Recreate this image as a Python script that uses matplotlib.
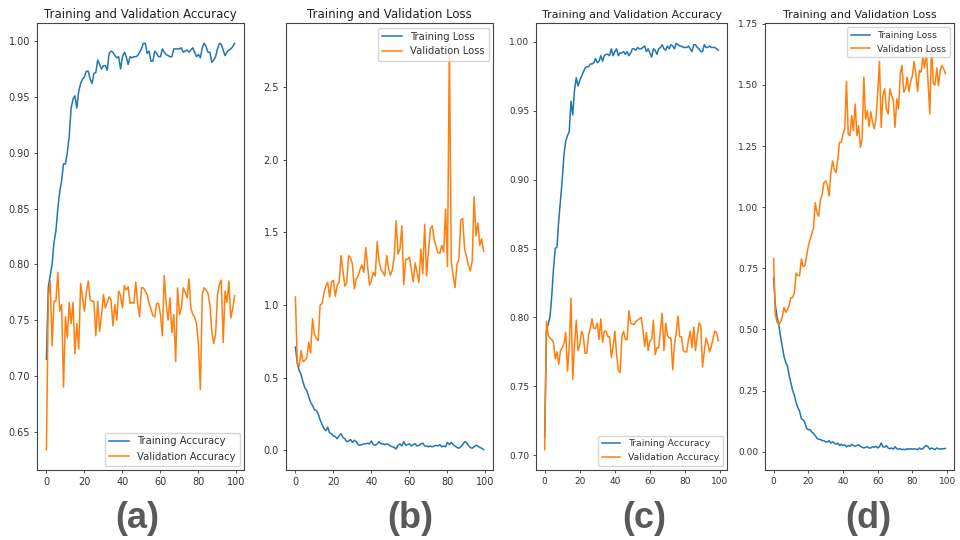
import matplotlib
matplotlib.use("Agg")
import matplotlib.pyplot as plt
from matplotlib.ticker import MultipleLocator

epochs = list(range(100))

a_train = [0.715, 0.780, 0.790, 0.800, 0.820, 0.830, 0.850, 0.865, 0.875, 0.890,
           0.890, 0.900, 0.915, 0.940, 0.948, 0.951, 0.940, 0.955, 0.962, 0.966,
           0.968, 0.973, 0.973, 0.966, 0.962, 0.971, 0.972, 0.983, 0.979, 0.975,
           0.978, 0.978, 0.974, 0.989, 0.991, 0.990, 0.987, 0.985, 0.986, 0.975,
           0.986, 0.990, 0.986, 0.979, 0.986, 0.985, 0.986, 0.986, 0.987, 0.990,
           0.993, 0.998, 0.998, 0.989, 0.991, 0.982, 0.982, 0.991, 0.989, 0.986,
           0.986, 0.993, 0.990, 0.988, 0.987, 0.986, 0.986, 0.993, 0.993, 0.993,
           0.993, 0.994, 0.990, 0.991, 0.992, 0.990, 0.992, 0.994, 0.990, 0.986,
           0.988, 0.985, 0.994, 0.998, 0.995, 0.990, 0.990, 0.981, 0.983, 0.986,
           0.993, 0.998, 0.997, 0.992, 0.987, 0.990, 0.992, 0.993, 0.995, 0.998]
a_val = [0.634, 0.770, 0.785, 0.727, 0.767, 0.767, 0.793, 0.758, 0.764, 0.690,
         0.753, 0.734, 0.766, 0.747, 0.766, 0.720, 0.747, 0.724, 0.783, 0.770,
         0.758, 0.775, 0.785, 0.768, 0.767, 0.767, 0.736, 0.767, 0.740, 0.755,
         0.773, 0.761, 0.766, 0.771, 0.768, 0.745, 0.764, 0.750, 0.776, 0.772,
         0.761, 0.781, 0.777, 0.780, 0.765, 0.766, 0.765, 0.784, 0.765, 0.753,
         0.779, 0.779, 0.776, 0.773, 0.765, 0.760, 0.754, 0.753, 0.765, 0.765,
         0.755, 0.736, 0.790, 0.765, 0.750, 0.770, 0.739, 0.755, 0.713, 0.779,
         0.755, 0.761, 0.779, 0.775, 0.770, 0.787, 0.761, 0.755, 0.753, 0.746,
         0.728, 0.688, 0.773, 0.779, 0.777, 0.774, 0.764, 0.740, 0.729, 0.737,
         0.773, 0.782, 0.786, 0.730, 0.776, 0.766, 0.785, 0.752, 0.760, 0.772]

b_train = [0.71, 0.60, 0.55, 0.52, 0.47, 0.43, 0.41, 0.37, 0.33, 0.31,
           0.28, 0.275, 0.25, 0.21, 0.18, 0.15, 0.135, 0.16, 0.12, 0.115,
           0.10, 0.095, 0.08, 0.10, 0.115, 0.09, 0.08, 0.06, 0.065, 0.075,
           0.055, 0.07, 0.06, 0.04, 0.035, 0.04, 0.045, 0.045, 0.05, 0.045,
           0.065, 0.04, 0.035, 0.045, 0.06, 0.045, 0.045, 0.04, 0.045, 0.04,
           0.03, 0.025, 0.02, 0.01, 0.035, 0.045, 0.03, 0.06, 0.035, 0.04,
           0.045, 0.03, 0.04, 0.045, 0.03, 0.035, 0.045, 0.05, 0.03, 0.03,
           0.025, 0.03, 0.025, 0.03, 0.035, 0.03, 0.04, 0.025, 0.03, 0.025,
           0.055, 0.04, 0.055, 0.04, 0.03, 0.02, 0.015, 0.025, 0.04, 0.06,
           0.055, 0.035, 0.02, 0.015, 0.025, 0.035, 0.03, 0.02, 0.015, 0.005]
b_val = [1.055, 0.60, 0.58, 0.686, 0.61, 0.62, 0.64, 0.744, 0.67, 0.905,
         0.80, 0.77, 0.755, 1.00, 1.01, 1.08, 1.13, 1.155, 1.055, 1.16,
         1.17, 1.06, 1.135, 1.155, 1.34, 1.235, 1.13, 1.155, 1.34, 1.325,
         1.28, 1.11, 1.18, 1.20, 1.245, 1.275, 1.225, 1.395, 1.265, 1.135,
         1.17, 1.225, 1.20, 1.435, 1.30, 1.245, 1.225, 1.20, 1.34, 1.25,
         1.205, 1.245, 1.335, 1.58, 1.35, 1.385, 1.545, 1.14, 1.315, 1.315,
         1.33, 1.245, 1.16, 1.29, 1.225, 1.155, 1.385, 1.215, 1.555, 1.20,
         1.375, 1.525, 1.545, 1.45, 1.40, 1.36, 1.355, 1.41, 1.365, 1.66,
         1.265, 2.80, 1.30, 1.20, 1.12, 1.28, 1.315, 1.585, 1.595, 1.385,
         1.335, 1.275, 1.235, 1.30, 1.745, 1.475, 1.565, 1.41, 1.455, 1.37]

c_train = [0.713, 0.790, 0.795, 0.800, 0.815, 0.835, 0.850, 0.851, 0.870, 0.885,
           0.900, 0.918, 0.928, 0.932, 0.935, 0.957, 0.947, 0.965, 0.974, 0.968,
           0.972, 0.975, 0.978, 0.981, 0.982, 0.982, 0.984, 0.984, 0.985, 0.988,
           0.985, 0.986, 0.990, 0.986, 0.990, 0.991, 0.991, 0.990, 0.995, 0.990,
           0.993, 0.995, 0.990, 0.992, 0.992, 0.993, 0.991, 0.993, 0.990, 0.992,
           0.995, 0.995, 0.994, 0.996, 0.995, 0.995, 0.996, 0.997, 0.993, 0.995,
           0.992, 0.989, 0.995, 0.994, 0.991, 0.995, 0.996, 0.998, 0.995, 0.994,
           0.997, 0.995, 0.998, 0.997, 0.995, 0.999, 0.998, 0.997, 0.997, 0.996,
           0.996, 0.996, 0.997, 0.995, 0.993, 0.998, 0.998, 0.996, 0.995, 0.993,
           0.993, 0.998, 0.996, 0.996, 0.997, 0.996, 0.996, 0.996, 0.995, 0.994]
c_val = [0.704, 0.797, 0.787, 0.785, 0.784, 0.782, 0.770, 0.775, 0.766, 0.776,
         0.778, 0.781, 0.789, 0.761, 0.779, 0.814, 0.755, 0.780, 0.798, 0.776,
         0.780, 0.790, 0.787, 0.774, 0.774, 0.787, 0.792, 0.799, 0.792, 0.792,
         0.796, 0.784, 0.799, 0.782, 0.790, 0.790, 0.786, 0.786, 0.771, 0.779,
         0.790, 0.773, 0.762, 0.760, 0.786, 0.790, 0.784, 0.784, 0.805, 0.796,
         0.795, 0.795, 0.797, 0.798, 0.799, 0.800, 0.791, 0.779, 0.789, 0.776,
         0.783, 0.784, 0.798, 0.773, 0.778, 0.778, 0.791, 0.803, 0.776, 0.796,
         0.787, 0.785, 0.785, 0.762, 0.780, 0.789, 0.801, 0.786, 0.786, 0.776,
         0.775, 0.775, 0.784, 0.790, 0.778, 0.793, 0.776, 0.787, 0.796, 0.794,
         0.764, 0.775, 0.785, 0.781, 0.775, 0.779, 0.785, 0.790, 0.789, 0.783]

d_train = [0.71, 0.60, 0.55, 0.52, 0.47, 0.43, 0.39, 0.365, 0.35, 0.31,
           0.28, 0.25, 0.23, 0.20, 0.18, 0.165, 0.135, 0.13, 0.12, 0.095,
           0.09, 0.09, 0.08, 0.075, 0.065, 0.055, 0.05, 0.05, 0.045, 0.045,
           0.04, 0.04, 0.045, 0.035, 0.04, 0.035, 0.03, 0.035, 0.025, 0.03,
           0.025, 0.028, 0.02, 0.025, 0.022, 0.03, 0.025, 0.022, 0.025, 0.028,
           0.022, 0.018, 0.015, 0.018, 0.02, 0.015, 0.015, 0.02, 0.018, 0.022,
           0.015, 0.02, 0.035, 0.02, 0.018, 0.025, 0.015, 0.012, 0.015, 0.01,
           0.02, 0.012, 0.01, 0.012, 0.008, 0.01, 0.008, 0.012, 0.01, 0.012,
           0.01, 0.012, 0.01, 0.008, 0.015, 0.01, 0.012, 0.02, 0.025, 0.02,
           0.01, 0.015, 0.012, 0.008, 0.015, 0.012, 0.01, 0.012, 0.012, 0.013]
d_val = [0.79, 0.56, 0.53, 0.52, 0.53, 0.55, 0.59, 0.57, 0.58, 0.60,
         0.63, 0.63, 0.65, 0.73, 0.72, 0.72, 0.788, 0.757, 0.76, 0.80,
         0.84, 0.867, 0.89, 0.915, 1.018, 0.977, 0.963, 1.032, 1.05, 1.10,
         1.107, 1.09, 1.045, 1.141, 1.189, 1.155, 1.141, 1.196, 1.265, 1.265,
         1.299, 1.32, 1.514, 1.299, 1.292, 1.374, 1.313, 1.422, 1.292, 1.333,
         1.244, 1.279, 1.532, 1.36, 1.395, 1.33, 1.39, 1.347, 1.32, 1.36,
         1.47, 1.596, 1.326, 1.456, 1.484, 1.40, 1.381, 1.484, 1.456, 1.436,
         1.326, 1.443, 1.402, 1.546, 1.58, 1.47, 1.484, 1.532, 1.473, 1.514,
         1.539, 1.596, 1.539, 1.473, 1.559, 1.552, 1.614, 1.569, 1.64, 1.511,
         1.381, 1.67, 1.504, 1.50, 1.569, 1.497, 1.559, 1.58, 1.566, 1.546]

titles = ["Training and Validation Accuracy", "Training and Validation Loss",
          "Training and Validation Accuracy", "Training and Validation Loss"]
train_labels = ["Training Accuracy", "Training Loss", "Training Accuracy", "Training Loss"]
val_labels = ["Validation Accuracy", "Validation Loss", "Validation Accuracy", "Validation Loss"]
panel_labels = ["(a)", "(b)", "(c)", "(d)"]

W, H = 960, 540
fig = plt.figure(figsize=(W / 100, H / 100), dpi=100)
fig.patch.set_facecolor("white")

rects = [(37, 207), (286, 207), (536, 191), (765, 189)]
label_x = [137, 410, 644, 868]
legend_locs = ["lower right", "upper right", "lower right", "upper right"]
ysteps = [0.05, 0.5, 0.05, 0.25]
tick_fs = [7.0, 7.0, 6.5, 6.5]
title_fs = [8.5, 8.5, 7.9, 7.9]
series = [(a_train, a_val), (b_train, b_val), (c_train, c_val), (d_train, d_val)]

for i in range(4):
    left, width = rects[i]
    ax = fig.add_axes([left / W, 70 / H, width / W, 447 / H])
    tr, va = series[i]
    ax.plot(epochs, tr, color="#1f77b4", lw=1.1, label=train_labels[i])
    ax.plot(epochs, va, color="#ff7f0e", lw=1.1, label=val_labels[i])
    ax.set_title(titles[i], fontsize=title_fs[i], pad=3.6, color="#222222")
    ax.xaxis.set_major_locator(MultipleLocator(20))
    ax.yaxis.set_major_locator(MultipleLocator(ysteps[i]))
    ax.tick_params(labelsize=tick_fs[i], length=2.5, width=0.6, pad=2.5,
                   colors="#333333")
    for s in ax.spines.values():
        s.set_color("#444444")
        s.set_linewidth(0.8)
    leg = ax.legend(loc=legend_locs[i], fontsize=tick_fs[i] + 0.2,
                    handlelength=2.0, borderaxespad=0.45)
    for t in leg.get_texts():
        t.set_color("#333333")
    fig.text(label_x[i] / W, (H - 518) / H, panel_labels[i],
             fontsize=26, fontweight="bold", color="#595959",
             family="Liberation Sans", ha="center", va="center")

fig.savefig("out.png", dpi=100, facecolor="white")
